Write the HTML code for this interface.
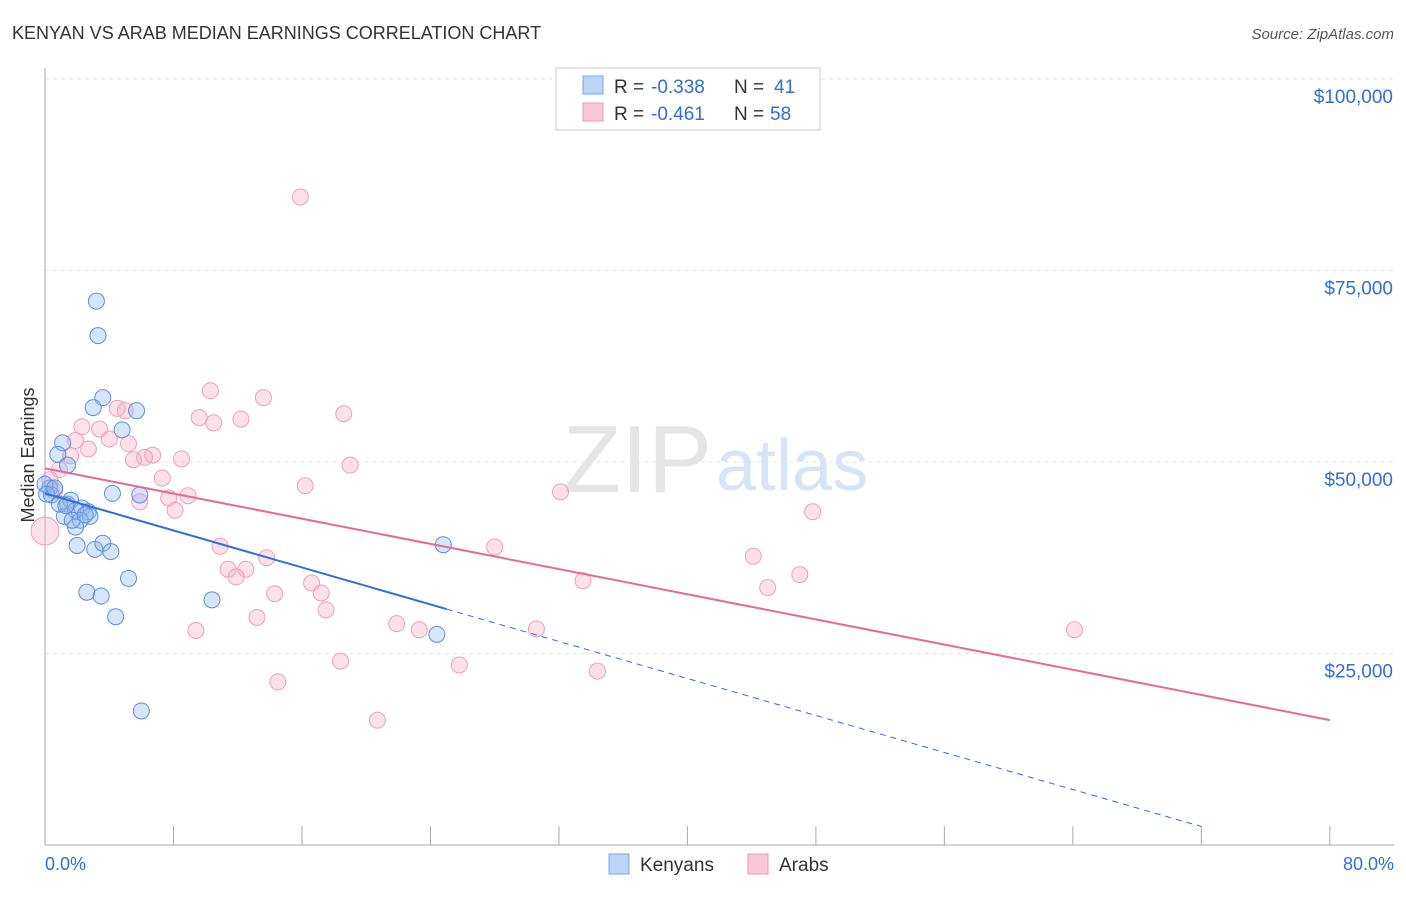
<!DOCTYPE html>
<html><head><meta charset="utf-8"><style>
body{margin:0;background:#fff;font-family:"Liberation Sans",sans-serif;}
svg text{font-family:"Liberation Sans",sans-serif;}
</style></head><body>
<svg width="1406" height="892" xmlns="http://www.w3.org/2000/svg">
<text x="12" y="39" font-size="18" fill="#333">KENYAN VS ARAB MEDIAN EARNINGS CORRELATION CHART</text>
<text x="1394" y="39" font-size="15" fill="#555" text-anchor="end" font-style="italic">Source: ZipAtlas.com</text>
<text x="712" y="492" font-size="96" fill="#e5e5e5" text-anchor="end" font-family="Liberation Serif">ZIP</text>
<text x="716" y="490" font-size="72" fill="#d6e4f5">atlas</text>
<g id="grid"></g><g id="axes"></g><g id="marks"></g>
<text x="34" y="455" font-size="18" fill="#333" text-anchor="middle" transform="rotate(-90 34 455)">Median Earnings</text>
<text x="45" y="870" font-size="18" fill="#2f6fd6">0.0%</text>
<text x="1394" y="870" font-size="18" fill="#2f6fd6" text-anchor="end">80.0%</text>
<g>
<rect x="556" y="68" width="264" height="62" fill="#fff" stroke="#ccc"/>
<rect x="583" y="76" width="20" height="18" fill="#bcd4f6" stroke="#7aa6e6"/>
<rect x="583" y="103" width="20" height="18" fill="#f9c8d8" stroke="#ef9ab5"/>
<text y="93" font-size="19" fill="#333"><tspan x="614">R =</tspan><tspan x="651" fill="#2f6fd6">-0.338</tspan><tspan x="734">N =</tspan><tspan x="774" fill="#2f6fd6">41</tspan></text>
<text y="120" font-size="19" fill="#333"><tspan x="614">R =</tspan><tspan x="651" fill="#2f6fd6">-0.461</tspan><tspan x="734">N =</tspan><tspan x="770" fill="#2f6fd6">58</tspan></text>
</g>
<g>
<rect x="609" y="854" width="20" height="20" fill="#bcd4f6" stroke="#7aa6e6"/>
<text x="640" y="871" font-size="19" fill="#333">Kenyans</text>
<rect x="748" y="854" width="20" height="20" fill="#f9c8d8" stroke="#ef9ab5"/>
<text x="779" y="871" font-size="19" fill="#333">Arabs</text>
</g>
</svg>
<script>
const yTicks=[25000,50000,75000,100000];
const yTickLabels=["$25,000","$50,000","$75,000","$100,000"];
const xTicks=[0,8,16,24,32,40,48,56,64,72,80];
const kenX=[3.2,3.3,3.6,3.0,5.7,4.8,1.1,0.8,1.4,0.3,0.4,4.2,5.9,1.4,1.6,2.3,2.7,1.9,2.8,2.2,1.2,1.9,2.0,3.1,3.6,4.1,5.2,2.6,3.5,4.4,10.4,24.8,24.4,6.0,0.0,0.1,0.6,0.9,1.7,2.5,1.3];
const kenY=[71000,66500,58400,57100,56700,54200,52500,51000,49600,46600,45700,45900,45700,44500,45000,44000,43500,43700,42900,42400,42900,41500,39100,38600,39400,38300,34800,33000,32500,29800,32000,39200,27500,17500,47100,45800,46600,44500,42400,43100,44300];
const arX=[15.9,10.3,13.6,18.6,9.6,12.2,10.5,4.5,5.0,2.3,3.4,4.0,5.2,2.7,1.6,6.7,6.2,5.5,8.5,19.0,7.3,16.2,32.1,8.9,7.7,5.9,8.1,47.8,0.0,10.9,28.0,13.8,44.1,11.4,12.5,11.9,47.0,33.5,16.6,45.0,17.2,14.3,17.5,13.2,21.9,9.4,23.3,30.6,64.1,18.4,25.8,34.4,14.5,20.7,0.9,0.3,1.9,0.6];
const arY=[84600,59300,58400,56300,55800,55600,55100,57000,56700,54600,54300,53000,52400,51700,50800,50900,50600,50300,50400,49600,47900,46900,46100,45600,45300,44800,43700,43500,41000,39000,38900,37500,37700,36000,36000,35000,35300,34500,34200,33600,32900,32800,30700,29700,28900,28000,28100,28200,28100,24000,23500,22700,21300,16300,49000,47700,52800,46200];
const kenTrend=[45900,30800];
const kenTrendX=[0,25,72];
const xs=v=>45+v*16.06, ys=v=>845-v/25000*191.5;
const NS="http://www.w3.org/2000/svg";
function mk(p,t,a){const e=document.createElementNS(NS,t);for(const k in a)e.setAttribute(k,a[k]);p.appendChild(e);return e;}
const grid=document.getElementById('grid'),axes=document.getElementById('axes'),marks=document.getElementById('marks');
const g0=mk(grid,'line',{x1:45,x2:1394,y1:79,y2:79,stroke:'#e4e4e4','stroke-dasharray':'4,4'});


yTicks.forEach((t,i)=>{
 const l=mk(grid,'line',{x1:45,x2:1394,y1:ys(t),y2:ys(t),stroke:'#e4e4e4','stroke-dasharray':'4,4'});
 
 
 const tx=mk(axes,'text',{x:1393,y:ys(t)+24,'font-size':19,fill:'#2f6fd6','text-anchor':'end'});
 tx.textContent=yTickLabels[i];
 
 
});
const ya=mk(axes,'line',{x1:45,x2:45,y1:68,y2:845,stroke:'#aaa'});


const xa=mk(axes,'line',{x1:45,x2:1394,y1:845,y2:845,stroke:'#aaa'});


xTicks.forEach(t=>{const l=mk(axes,'line',{x1:xs(t),x2:xs(t),y1:826,y2:845,stroke:'#aaa'});
 
 });
arX.forEach((x,i)=>{const c=mk(marks,'circle',{cx:xs(x),cy:ys(arY[i]),r:i==28?14:8,fill:'rgba(246,170,195,0.35)',stroke:'#eea0ba','stroke-width':1});
 
 });
kenX.forEach((x,i)=>{const c=mk(marks,'circle',{cx:xs(x),cy:ys(kenY[i]),r:8,fill:'rgba(140,180,235,0.35)',stroke:'#5c8fdc','stroke-width':1});
 
 });
function fit(X,Y){const n=X.length;let mx=0,my=0;X.forEach((v,i)=>{mx+=v;my+=Y[i]});mx/=n;my/=n;let sxy=0,sxx=0;X.forEach((v,i)=>{sxy+=(v-mx)*(Y[i]-my);sxx+=(v-mx)**2});const b=sxy/sxx;return [my-b*mx,b];}
const [aa,ab]=fit(arX,arY);
const kb=(kenTrend[1]-kenTrend[0])/kenTrendX[1], ka=kenTrend[0];
const t1=mk(marks,'line',{x1:xs(0),y1:ys(ka),x2:xs(kenTrendX[1]),y2:ys(ka+kb*kenTrendX[1]),stroke:'#2f6fd6','stroke-width':2});


const xe=kenTrendX[2];
const t2=mk(marks,'line',{x1:xs(kenTrendX[1]),y1:ys(ka+kb*kenTrendX[1]),x2:xs(xe),y2:ys(Math.max(0,ka+kb*xe)),stroke:'#2f6fd6','stroke-width':1,'stroke-dasharray':'6,5'});


const t3=mk(marks,'line',{x1:xs(0),y1:ys(aa),x2:xs(80),y2:ys(aa+ab*80),stroke:'#e8689a','stroke-width':2});


</script>
</body></html>
